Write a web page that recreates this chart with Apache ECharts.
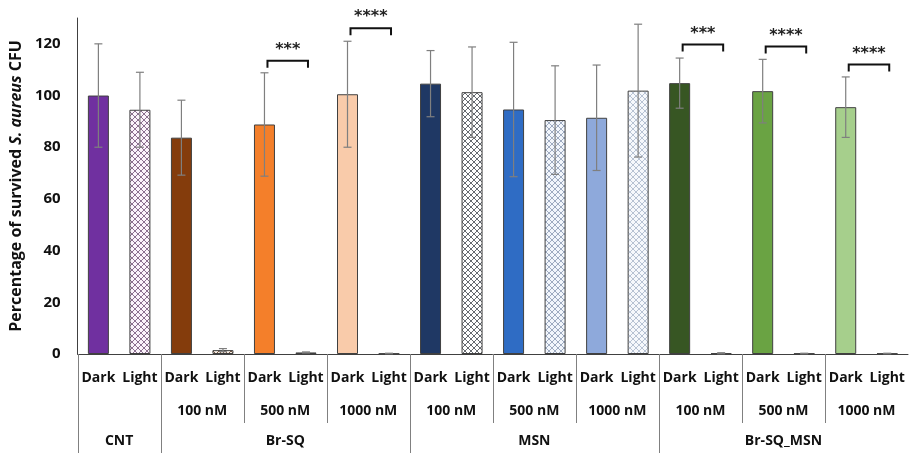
<!DOCTYPE html>
<html><head><meta charset="utf-8">
<script src="https://cdn.jsdelivr.net/npm/echarts@6/dist/echarts.min.js"></script>
<style>html,body{margin:0;padding:0;background:#fff}#c{width:911px;height:453px}</style>
</head><body><div id="c"></div>
<script>
// ---- data ----
const conditions = ['Dark','Light','Dark','Light','Dark','Light','Dark','Light','Dark','Light',
                    'Dark','Light','Dark','Light','Dark','Light','Dark','Light','Dark','Light'];
const concentrations = ['', '100 nM','500 nM','1000 nM','100 nM','500 nM','1000 nM','100 nM','500 nM','1000 nM'];
const groups = ['CNT','','Br-SQ','','','MSN','','','Br-SQ_MSN',''];
const means  = [100, 94.5, 83.7, 1.5, 88.8, 0.6, 100.5, 0.2, 104.6, 101.3,
                94.6, 90.5, 91.4, 101.9, 104.8, 0.3, 101.7, 0.2, 95.5, 0.2];
const errors = [20, 14.5, 14.5, 0.6, 20, 0.2, 20.5, 0.1, 12.8, 17.5,
                26, 21, 20.4, 25.7, 9.7, 0.2, 12.3, 0.1, 11.7, 0.1];
const sigFrom  = [4, 6, 14, 16, 18];
const sigTo    = [5, 7, 15, 17, 19];
const sigLevel = [113.5, 126, 119.7, 119, 112];
const sigStars = ['***', '****', '***', '****', '****'];
const yTicks = [0, 20, 40, 60, 80, 100, 120];
// boundaries (left edge of bar k) between label groups
const majorBounds = [0, 2, 8, 14];
const minorBounds = [4, 6, 10, 12, 16, 18];

// ---- styles ----
const solidColors = ['#7030A0', null, '#843C0C', null, '#F47F2A', null, '#F9CBAA', null, '#1F3864', null,
                     '#2F6CC4', null, '#8EA9DB', null, '#375623', null, '#6AA343', null, '#A6CF8C', null];
const patternStyles = {
  1: ['#FBF3FB', '#8C7090'],
  3: ['#F5EDE6', '#7A5A45'],
  5: ['#EEE', '#444'],
  7: ['#EEE', '#222'],
  9: ['#FFFFFF', '#666A70'],
  11: ['#F2F6FC', '#9DAAC0'],
  13: ['#F6F8FC', '#B7C2D3'],
  15: ['#EEE', '#222'],
  17: ['#EEE', '#222'],
  19: ['#EEE', '#222']
};
function makePattern(bg, fg) {
  const s = 6;
  const cv = document.createElement('canvas');
  cv.width = s; cv.height = s;
  const ctx = cv.getContext('2d');
  ctx.fillStyle = bg; ctx.fillRect(0, 0, s, s);
  ctx.strokeStyle = fg; ctx.lineWidth = 1;
  ctx.beginPath();
  ctx.moveTo(0, 0); ctx.lineTo(s, s);
  ctx.moveTo(s, 0); ctx.lineTo(0, s);
  ctx.stroke();
  return { image: cv, repeat: 'repeat' };
}

const barData = means.map((v, i) => {
  const fill = solidColors[i] ? solidColors[i] : makePattern(patternStyles[i][0], patternStyles[i][1]);
  return { value: v, itemStyle: { color: fill, borderColor: '#404040', borderWidth: 1 } };
});
const errData = means.map((v, i) => [i, v - errors[i], v + errors[i]]);
const sigData = sigFrom.map((f, i) => [f, sigTo[i], sigLevel[i]]);
const sepData = majorBounds.map(k => [k, 0, 1]).concat(minorBounds.map(k => [k, 0, 0]));

const FONT = 'Open Sans';
const lbl = { color: '#111', fontFamily: FONT, fontWeight: 'bold', fontSize: 14 };
const chart = echarts.init(document.getElementById('c'));
chart.setOption({
  animation: false,
  backgroundColor: '#fff',
  grid: { left: 77, right: 3, top: 18, bottom: 99 },
  xAxis: [
    { type: 'category', data: conditions, position: 'bottom',
      axisLine: { show: true, lineStyle: { color: '#404040', width: 1 } },
      axisTick: { show: false },
      axisLabel: Object.assign({ interval: 0, margin: 17 }, lbl) },
    { type: 'category', data: concentrations, position: 'bottom',
      axisLine: { show: false }, axisTick: { show: false },
      axisLabel: Object.assign({ interval: 0, margin: 50 }, lbl) },
    { type: 'category', data: groups, position: 'bottom',
      axisLine: { show: false }, axisTick: { show: false },
      axisLabel: Object.assign({ interval: 0, margin: 80 }, lbl) }
  ],
  yAxis: {
    type: 'value', min: 0, max: 130, interval: 20,
    axisLine: { show: true, lineStyle: { color: '#404040' } },
    axisTick: { show: false },
    splitLine: { show: false },
    axisLabel: { showMaxLabel: false, margin: 17, color: '#111', fontFamily: FONT, fontWeight: 'bold', fontSize: 15,
                 formatter: v => (yTicks.indexOf(v) >= 0 ? String(v) : '') },
    name: '{a|Percentage of survived }{b|S. aureus}{a| CFU}',
    nameLocation: 'middle', nameGap: 50,
    nameTextStyle: {
      rich: {
        a: { fontFamily: FONT, fontWeight: 'bold', fontSize: 16, color: '#111' },
        b: { fontFamily: FONT, fontWeight: 'bold', fontStyle: 'italic', fontSize: 16, color: '#111' }
      }
    }
  },
  series: [
    { type: 'bar', xAxisIndex: 0, data: barData, barWidth: 21, z: 2 },
    { type: 'custom', xAxisIndex: 0, data: errData, z: 5,
      encode: { x: 0, y: [1, 2] },
      renderItem: function (params, api) {
        const i = api.value(0);
        const lo = api.coord([i, api.value(1)]);
        const hi = api.coord([i, api.value(2)]);
        const x = lo[0], w = 4;
        const st = { stroke: '#7F7F7F', lineWidth: 1.2 };
        return { type: 'group', children: [
          { type: 'line', shape: { x1: x, y1: lo[1], x2: x, y2: hi[1] }, style: st },
          { type: 'line', shape: { x1: x - w, y1: hi[1], x2: x + w, y2: hi[1] }, style: st },
          { type: 'line', shape: { x1: x - w, y1: lo[1], x2: x + w, y2: lo[1] }, style: st }
        ] };
      } },
    { type: 'custom', xAxisIndex: 0, data: sigData, z: 6,
      encode: { x: [0, 1], y: 2 },
      renderItem: function (params, api) {
        const a = api.coord([api.value(0), api.value(2)]);
        const b = api.coord([api.value(1), api.value(2)]);
        const x1 = a[0] + 3, x2 = b[0] + 2, y = a[1], d = 7;
        return { type: 'group', children: [
          { type: 'polyline', shape: { points: [[x1, y + d], [x1, y], [x2, y], [x2, y + d]] },
            style: { stroke: '#111', lineWidth: 2, fill: null } },
          { type: 'text', style: { text: sigStars[params.dataIndex], x: (x1 + x2) / 2, y: y - 3,
            align: 'center', verticalAlign: 'bottom', fill: '#222',
            font: 'bold 16px "DejaVu Sans"' } }
        ] };
      } },
    { type: 'custom', xAxisIndex: 0, data: sepData, z: 1, silent: true, clip: false,
      encode: { x: 0, y: 1 },
      renderItem: function (params, api) {
        const c0 = api.coord([0, 0]);
        const c1 = api.coord([1, 0]);
        const band = c1[0] - c0[0];
        const x = Math.round(c0[0] + (api.value(0) - 0.5) * band) + 0.5;
        const y0 = c0[1];
        const y1 = api.value(2) ? params.coordSys.y + params.coordSys.height + 99 : y0 + 69;
        return { type: 'line', shape: { x1: x, y1: y0, x2: x, y2: y1 },
                 style: { stroke: '#808080', lineWidth: 1 } };
      } }
  ]
});
</script></body></html>
